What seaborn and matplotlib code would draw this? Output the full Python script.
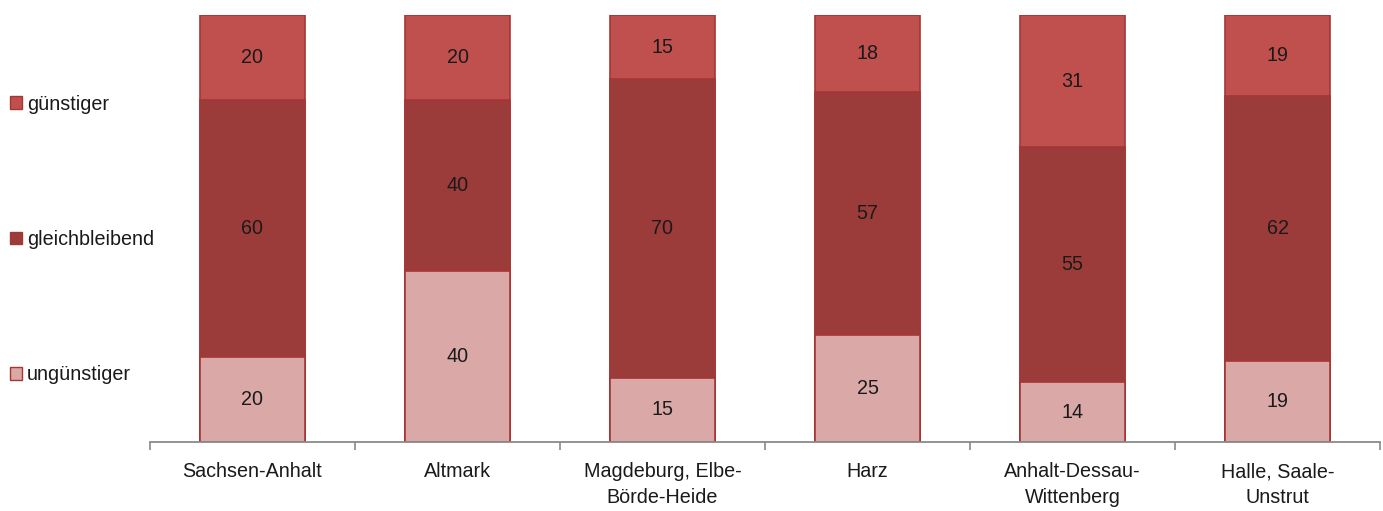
import matplotlib
matplotlib.use("Agg")
import matplotlib.pyplot as plt
from matplotlib.patches import Patch
from matplotlib.ticker import FixedLocator
import numpy as np
import pandas as pd
import seaborn as sns

# Regions and shares (%) of expected development
regions = ["Sachsen-Anhalt", "Altmark", "Magdeburg, Elbe-\nBörde-Heide", "Harz",
           "Anhalt-Dessau-\nWittenberg", "Halle, Saale-\nUnstrut"]
unguenstiger = [20, 40, 15, 25, 14, 19]
gleichbleibend = [60, 40, 70, 57, 55, 62]
guenstiger = [20, 20, 15, 18, 31, 19]

series_names = ["ungünstiger", "gleichbleibend", "günstiger"]
series_values = [unguenstiger, gleichbleibend, guenstiger]
colors = ["#D9A8A7", "#9B3C3A", "#C0504D"]
edge = "#A63634"

sns.set_theme(style="white")
plt.rcParams["font.family"] = ["Liberation Sans", "DejaVu Sans"]
plt.rcParams["text.color"] = "#1a1a1a"

fig = plt.figure(figsize=(13.83, 5.11), dpi=100)
ax = fig.add_axes([150 / 1383, 1 - 442 / 511, 1230 / 1383, 427 / 511])

# Stacked bars: draw cumulative totals from the top segment down
cum = np.cumsum(np.array(series_values), axis=0)
for i in range(len(series_names) - 1, -1, -1):
    df = pd.DataFrame({"region": regions, "value": cum[i]})
    sns.barplot(data=df, x="region", y="value", order=regions, color=colors[i],
                saturation=1, width=0.51, edgecolor=edge, linewidth=1.2, ax=ax)

# Value labels centred in each segment
for i, vals in enumerate(series_values):
    bottoms = cum[i] - np.array(vals)
    for j, v in enumerate(vals):
        ax.text(j, bottoms[j] + v / 2, f"{v}", ha="center", va="center",
                fontsize=14.2, color="#1a1a1a")

ax.set_xlim(-0.5, len(regions) - 0.5)
ax.set_ylim(0, 100)
ax.set_xlabel("")
ax.set_ylabel("")
ax.set_yticks([])
ax.set_xticks(range(len(regions)), labels=regions, linespacing=1.45,
              fontsize=14.2, color="#1a1a1a")
for s in ["top", "right", "left"]:
    ax.spines[s].set_visible(False)
ax.spines["bottom"].set_color("#8a8a8a")
ax.spines["bottom"].set_linewidth(1.3)

ax.xaxis.set_minor_locator(FixedLocator(np.arange(-0.5, len(regions), 1.0)))
ax.tick_params(axis="x", which="major", length=0, pad=14.5)
ax.tick_params(axis="x", which="minor", length=6, width=1.2, color="#8a8a8a",
               direction="out", bottom=True)

handles = [Patch(facecolor=colors[i], edgecolor=edge, linewidth=1.0, label=series_names[i])
           for i in range(len(series_names) - 1, -1, -1)]
fig.legend(handles=handles, loc="center left", bbox_to_anchor=(10 / 1383, 1 - 239.5 / 511),
           frameon=False, fontsize=14.2, labelspacing=5.9, handlelength=0.62,
           handleheight=0.62, handletextpad=0.25, borderpad=0, borderaxespad=0)

fig.savefig("out.png", dpi=100, facecolor="white")
